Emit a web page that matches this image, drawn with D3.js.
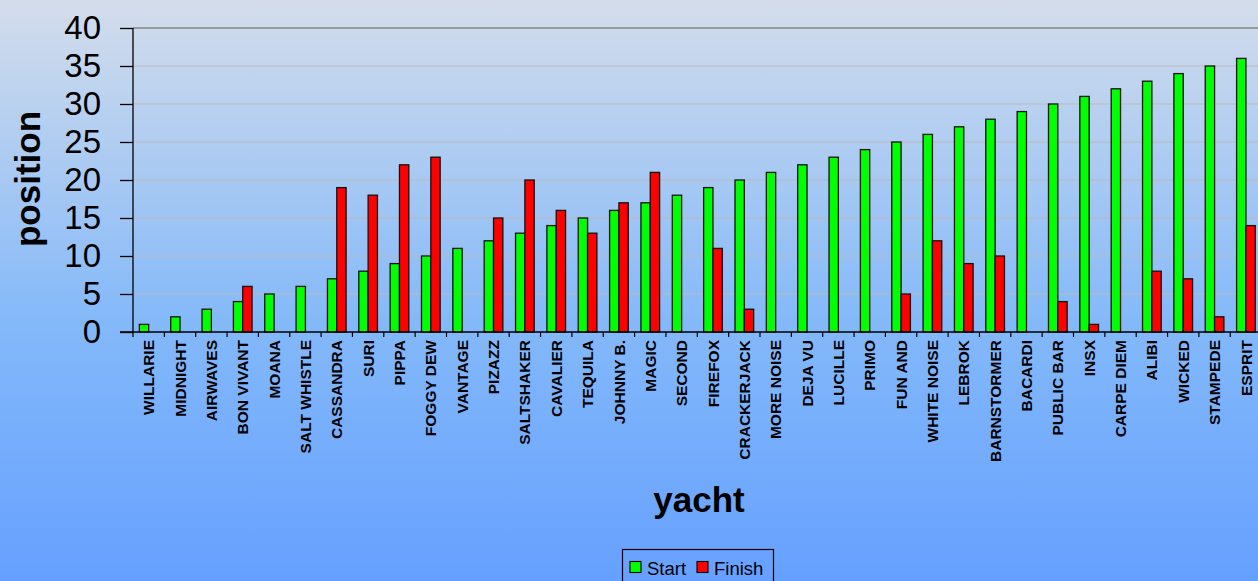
<!DOCTYPE html>
<html>
<head>
<meta charset="utf-8">
<script src="https://cdn.jsdelivr.net/npm/d3@7"></script>
<style>
    body { margin: 0; overflow: hidden; }
    svg { display: block; font-family: "Liberation Sans", Arial, sans-serif; }
</style>
</head>
<body>
<div id="chart"></div>
<script>
(function () {
    "use strict";

    const yachts = ["WILLARIE", "MIDNIGHT", "AIRWAVES", "BON VIVANT", "MOANA", "SALT WHISTLE",
        "CASSANDRA", "SURI", "PIPPA", "FOGGY DEW", "VANTAGE", "PIZAZZ", "SALTSHAKER", "CAVALIER",
        "TEQUILA", "JOHNNY B.", "MAGIC", "SECOND", "FIREFOX", "CRACKERJACK", "MORE NOISE", "DEJA VU",
        "LUCILLE", "PRIMO", "FUN AND", "WHITE NOISE", "LEBROK", "BARNSTORMER", "BACARDI", "PUBLIC BAR",
        "INSX", "CARPE DIEM", "ALIBI", "WICKED", "STAMPEDE", "ESPRIT"];

    const start = [1, 2, 3, 4, 5, 6, 7, 8, 9, 10, 11, 12, 13, 14, 15, 16, 17, 18,
        19, 20, 21, 22, 23, 24, 25, 26, 27, 28, 29, 30, 31, 32, 33, 34, 35, 36];

    const finish = [null, null, null, 6, null, null, 19, 18, 22, 23, null, 15, 20, 16, 13, 17, 21, null,
        11, 3, null, null, null, null, 5, 12, 9, 10, null, 4, 1, null, 8, 7, 2, 14];

    const seriesNames = ["Start", "Finish"];
    const seriesColors = ["#00ff00", "#ff0000"];
    const yTicks = [0, 5, 10, 15, 20, 25, 30, 35, 40];

    const width = 1258;
    const height = 581;
    const plot = { left: 133, top: 28, bottom: 332, right: 133 + 31.35 * yachts.length };

    const svg = d3.select("#chart").append("svg")
        .attr("width", width)
        .attr("height", height);

    const grad = svg.append("defs").append("linearGradient")
        .attr("id", "bg")
        .attr("x1", 0).attr("y1", 0).attr("x2", 0).attr("y2", 1);
    grad.append("stop").attr("offset", "0%").attr("stop-color", "#d4ddeb");
    grad.append("stop").attr("offset", "55%").attr("stop-color", "#84b9f9");
    grad.append("stop").attr("offset", "100%").attr("stop-color", "#66a0ff");

    svg.append("rect")
        .attr("width", width)
        .attr("height", height)
        .attr("fill", "url(#bg)");

    const x0 = d3.scaleBand()
        .domain(yachts)
        .range([plot.left, plot.right]);

    const x1 = d3.scaleBand()
        .domain(seriesNames)
        .range([0, x0.bandwidth()])
        .paddingOuter(0.68);

    const y = d3.scaleLinear()
        .domain([0, 40])
        .range([plot.bottom, plot.top]);

    // gridlines
    svg.append("g")
        .selectAll("line")
        .data(yTicks.filter(d => d > 0))
        .join("line")
        .attr("x1", plot.left)
        .attr("x2", width)
        .attr("y1", d => y(d))
        .attr("y2", d => y(d))
        .attr("stroke", d => d === 40 ? "#858585" : "#b9b9b9")
        .attr("stroke-width", d => d === 40 ? 1.5 : 1.2);

    // bars
    const rows = yachts.map((name, i) => ({ name, values: [start[i], finish[i]] }));

    const groups = svg.append("g")
        .selectAll("g")
        .data(rows)
        .join("g")
        .attr("transform", d => `translate(${x0(d.name)},0)`);

    groups.selectAll("rect")
        .data(d => d.values
            .map((v, k) => ({ series: seriesNames[k], color: seriesColors[k], value: v }))
            .filter(e => e.value != null))
        .join("rect")
        .attr("x", d => x1(d.series))
        .attr("width", x1.bandwidth())
        .attr("y", d => y(d.value))
        .attr("height", d => y(0) - y(d.value))
        .attr("fill", d => d.color)
        .attr("stroke", "#111")
        .attr("stroke-width", 1.3);

    // y axis
    const yAxis = svg.append("g")
        .attr("transform", `translate(${plot.left},0)`)
        .call(d3.axisLeft(y).tickValues(yTicks).tickSize(13).tickPadding(19));
    yAxis.select(".domain").attr("stroke", "#000").attr("stroke-width", 1.3)
        .attr("d", `M0,${plot.top}V${plot.bottom}`);
    yAxis.selectAll(".tick line").attr("stroke", "#000").attr("stroke-width", 1.3);
    yAxis.selectAll(".tick text")
        .attr("font-size", 33)
        .attr("font-family", "Liberation Sans, Arial, sans-serif")
        .attr("fill", "#000");

    // x axis
    svg.append("line")
        .attr("x1", plot.left - 13)
        .attr("x2", width)
        .attr("y1", plot.bottom)
        .attr("y2", plot.bottom)
        .attr("stroke", "#000")
        .attr("stroke-width", 1.3);

    svg.append("g")
        .selectAll("line")
        .data(yachts)
        .join("line")
        .attr("x1", d => x0(d))
        .attr("x2", d => x0(d))
        .attr("y1", plot.bottom)
        .attr("y2", plot.bottom + 5)
        .attr("stroke", "#000")
        .attr("stroke-width", 1.2);

    svg.append("g")
        .selectAll("text")
        .data(yachts)
        .join("text")
        .attr("transform", d => `translate(${x0(d) + x0.bandwidth() / 2},${plot.bottom + 8}) rotate(-90)`)
        .attr("dy", "0.36em")
        .attr("text-anchor", "end")
        .attr("font-size", 15.5)
        .attr("font-weight", "bold")
        .text(d => d);

    // axis titles
    svg.append("text")
        .attr("transform", "translate(27,179) rotate(-90)")
        .attr("dy", "0.36em")
        .attr("text-anchor", "middle")
        .attr("font-size", 35)
        .attr("font-weight", "bold")
        .text("position");

    svg.append("text")
        .attr("x", 699)
        .attr("y", 512)
        .attr("text-anchor", "middle")
        .attr("font-size", 35)
        .attr("font-weight", "bold")
        .text("yacht");

    // legend
    const legend = svg.append("g");
    legend.append("rect")
        .attr("x", 622.5)
        .attr("y", 549.5)
        .attr("width", 151)
        .attr("height", 40)
        .attr("fill", "none")
        .attr("stroke", "#000")
        .attr("stroke-width", 1.2);

    const legendX = [630, 697];
    const items = legend.selectAll("g")
        .data(seriesNames)
        .join("g")
        .attr("transform", (d, i) => `translate(${legendX[i]},561.5)`);
    items.append("rect")
        .attr("width", 11)
        .attr("height", 11)
        .attr("fill", (d, i) => seriesColors[i])
        .attr("stroke", "#000")
        .attr("stroke-width", 1.1);
    items.append("text")
        .attr("x", 17)
        .attr("y", 13)
        .attr("font-size", 18.5)
        .text(d => d);
}());
</script>
</body>
</html>
